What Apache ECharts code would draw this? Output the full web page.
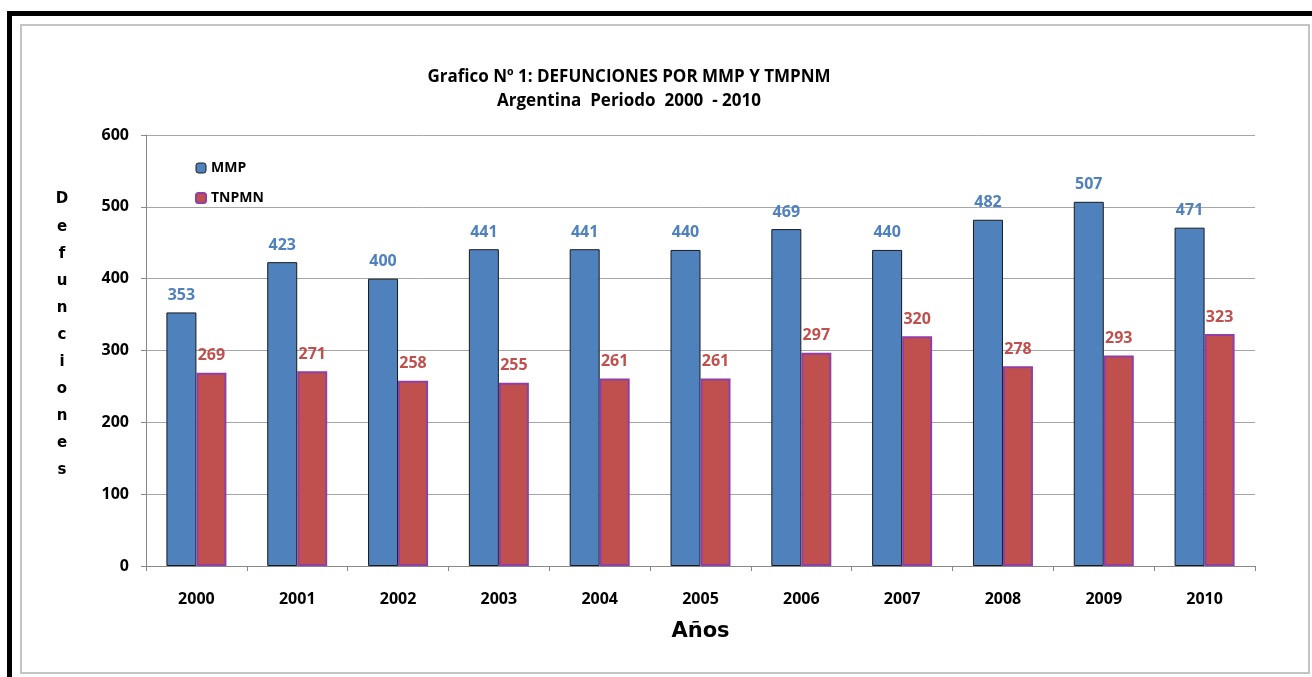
<!DOCTYPE html>
<html><head><meta charset="utf-8">
<script src="https://cdn.jsdelivr.net/npm/echarts@6/dist/echarts.min.js"></script>
<style>html,body{margin:0;padding:0;background:#fff}#c{width:1312px;height:677px}</style>
</head><body><div id="c"></div>
<script>
const categories = ['2000','2001','2002','2003','2004','2005','2006','2007','2008','2009','2010'];
const mmp = [353,423,400,441,441,440,469,440,482,507,471];
const tnpmn = [269,271,258,255,261,261,297,320,278,293,323];
const yTicks = [0,100,200,300,400,500,600];

const chart = echarts.init(document.getElementById('c'));
const F = '"Open Sans", "Noto Sans", sans-serif';
const HEAVY = '"DejaVu Sans", sans-serif';
chart.setOption({
  animation:false,
  title:{text:'Grafico Nº 1: DEFUNCIONES POR MMP Y TMPNM\nArgentina  Periodo  2000  - 2010',left:624,top:60,textAlign:'center',
    textStyle:{fontFamily:F,fontWeight:'bold',fontSize:17,lineHeight:24,color:'#000'}},
  legend:{orient:'vertical',left:190,top:156,itemWidth:10,itemHeight:10,itemGap:16,
    textStyle:{fontFamily:F,fontWeight:'bold',fontSize:14,color:'#000'},
    data:[{name:'MMP',itemStyle:{color:'#4f81bd',borderColor:'#1a1a1a',borderWidth:1}},
          {name:'TNPMN',itemStyle:{color:'#c0504d',borderColor:'#8e3fa8',borderWidth:2}}]},
  grid:{left:146,top:135,right:57,bottom:111,containLabel:false},
  xAxis:{type:'category',data:categories,
    axisLine:{lineStyle:{color:'#888',width:1}},
    axisTick:{show:true,length:5,alignWithLabel:false,lineStyle:{color:'#888'}},
    axisLabel:{fontFamily:F,fontWeight:'bold',fontSize:16,color:'#000',margin:25},
    name:'Años',nameLocation:'middle',nameGap:55,
    nameTextStyle:{fontFamily:HEAVY,fontWeight:900,fontSize:21,color:'#000'}},
  yAxis:{type:'value',min:0,max:600,interval:100,
    axisLine:{show:true,lineStyle:{color:'#888'}},
    axisTick:{show:true,length:5,lineStyle:{color:'#888'}},
    axisLabel:{fontFamily:F,fontWeight:'bold',fontSize:16,color:'#000',margin:17,
      formatter:v=>yTicks.includes(v)?String(v):''},
    splitLine:{lineStyle:{color:'#a6a6a6',width:1}}},
  graphic:[
    {type:'rect',shape:{x:7,y:11,width:1305,height:5},style:{fill:'#000'},silent:true},
    {type:'rect',shape:{x:7,y:11,width:5,height:666},style:{fill:'#000'},silent:true},
    {type:'rect',shape:{x:21,y:25,width:1288,height:648},style:{fill:'none',stroke:'#c4c4c4',lineWidth:2},silent:true},
    {type:'text',x:62,y:186,style:{text:'D\ne\nf\nu\nn\nc\ni\no\nn\ne\ns',fontFamily:HEAVY,fontWeight:900,fontSize:15,lineHeight:27.1,fill:'#000',align:'center'}}
  ],
  series:[
    {name:'MMP',type:'bar',data:mmp,barWidth:30,barGap:'0%',
      itemStyle:{color:'#4f81bd',borderColor:'#1a1a1a',borderWidth:1},
      label:{show:true,position:'top',distance:9,fontFamily:F,fontWeight:'bold',fontSize:16,color:'#4f81bd'}},
    {name:'TNPMN',type:'bar',data:tnpmn,barWidth:30,
      itemStyle:{color:'#c0504d',borderColor:'#8e3fa8',borderWidth:2},
      label:{show:true,position:'top',distance:9,fontFamily:F,fontWeight:'bold',fontSize:16,color:'#c0504d'}}
  ]
});
</script></body></html>
